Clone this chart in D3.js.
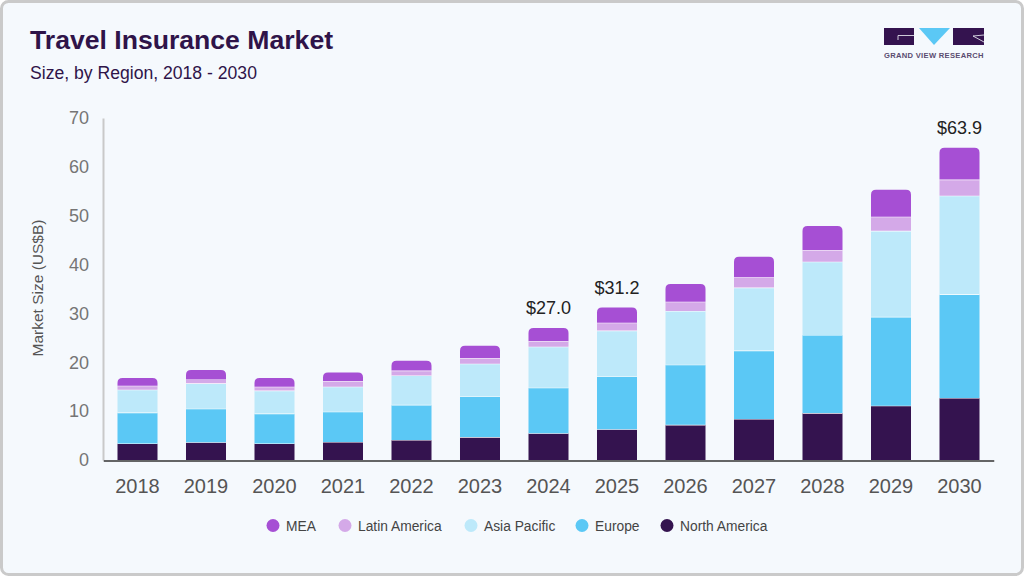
<!DOCTYPE html>
<html><head><meta charset="utf-8">
<script src="https://cdn.jsdelivr.net/npm/d3@7/dist/d3.min.js"></script>
<style>html,body{margin:0;padding:0;background:#fff;}svg{display:block;}text{font-family:"Liberation Sans",sans-serif;}</style>
</head><body><svg id="c" width="1024" height="576"></svg>
<script>
const years = [2018,2019,2020,2021,2022,2023,2024,2025,2026,2027,2028,2029,2030];
const northAmerica = [3.4,3.65,3.4,3.7,4.1,4.7,5.5,6.3,7.2,8.4,9.6,11.1,12.7];
const europe = [6.3,6.85,6.1,6.2,7.2,8.3,9.3,10.8,12.3,14.0,16.0,18.2,21.2];
const asiaPacific = [4.7,5.2,4.7,5.1,6.0,6.7,8.4,9.4,11.0,12.9,15.0,17.6,20.2];
const latinAmerica = [0.8,0.8,0.8,1.1,1.0,1.2,1.1,1.6,1.9,2.1,2.4,2.9,3.3];
const mea = [1.6,1.9,1.8,1.8,2.0,2.5,2.7,3.1,3.6,4.2,4.9,5.5,6.5];
const seriesNames = ["North America","Europe","Asia Pacific","Latin America","MEA"];
const seriesColors = ["#34134f","#5bc8f5","#bde9fa","#d4a9e8","#a64fd4"];
const legendOrder = ["MEA","Latin America","Asia Pacific","Europe","North America"];
const yTicks = [0,10,20,30,40,50,60,70];
const totalLabels = {2024:"$27.0",2025:"$31.2",2030:"$63.9"};

const svg = d3.select("#c");
svg.append("rect").attr("x",1.5).attr("y",1.5).attr("width",1021).attr("height",573).attr("rx",7)
  .attr("fill","#f5f9fd").attr("stroke","#cacaca").attr("stroke-width",3);

svg.append("text").attr("x",30).attr("y",49).attr("font-size",26.6).attr("font-weight",700).attr("fill","#2f1449").text("Travel Insurance Market");
svg.append("text").attr("x",30).attr("y",79).attr("font-size",17.6).attr("fill","#2f1449").text("Size, by Region, 2018 - 2030");

// logo
const logo = svg.append("g");
logo.append("rect").attr("x",884).attr("y",28).attr("width",30).attr("height",17).attr("fill","#34134f");
logo.append("rect").attr("x",953).attr("y",28).attr("width",31).attr("height",17).attr("fill","#34134f");
logo.append("polygon").attr("points","919,28 950,28 934,45").attr("fill","#5bc8f5");
logo.append("path").attr("d","M914 35.5H898V40").attr("fill","none").attr("stroke","#f5f9fd").attr("stroke-width",.8);
logo.append("path").attr("d","M984 42L973 36L984 35").attr("fill","none").attr("stroke","#f5f9fd").attr("stroke-width",.8);
logo.append("text").attr("x",884).attr("y",58).attr("font-size",7.6).attr("font-weight",700).attr("letter-spacing",.3).attr("fill","#5a4c70").text("GRAND VIEW RESEARCH");

const x = d3.scaleBand().domain(years).range([103.25,993.75]).paddingInner(0.416).paddingOuter(0.208);
const y = d3.scaleLinear().domain([0,70]).range([460,118]);

const table = years.map((yr,i)=>({year:yr,"North America":northAmerica[i],"Europe":europe[i],"Asia Pacific":asiaPacific[i],"Latin America":latinAmerica[i],"MEA":mea[i]}));
const stacked = d3.stack().keys(seriesNames)(table);
const color = d3.scaleOrdinal(seriesNames,seriesColors);

const barPath = (d,key)=>{
  const x0=x(d.data.year), w=x.bandwidth(), yt=y(d[1]), yb=y(d[0]);
  if(key==="MEA"){const r=5;return `M${x0} ${yb}V${yt+r}Q${x0} ${yt} ${x0+r} ${yt}H${x0+w-r}Q${x0+w} ${yt} ${x0+w} ${yt+r}V${yb}Z`;}
  return `M${x0} ${yb}V${yt}H${x0+w}V${yb}Z`;
};
svg.append("g").selectAll("g").data(stacked).join("g").attr("fill",s=>color(s.key))
  .each(function(s){
    d3.select(this).selectAll("path").data(s).join("path").attr("d",d=>barPath(d,s.key));
    if(s.key!=="MEA") d3.select(this).selectAll("line").data(s).join("line")
      .attr("x1",d=>x(d.data.year)).attr("x2",d=>x(d.data.year)+x.bandwidth())
      .attr("y1",d=>y(d[1])).attr("y2",d=>y(d[1])).attr("stroke","#fff").attr("stroke-width",1.2);
  });

const yAxis = d3.axisLeft(y).tickValues(yTicks).tickSize(0).tickPadding(14);
const gy = svg.append("g").attr("transform","translate(103,0)").call(yAxis);
gy.select(".domain").attr("stroke","#c9c9c9").attr("stroke-width",2);
gy.selectAll("text").attr("font-size",18).attr("fill","#757575").attr("font-family","Liberation Sans");

const xAxis = d3.axisBottom(x).tickSize(0).tickPadding(18).tickFormat(d3.format("d"));
const gx = svg.append("g").attr("transform","translate(0,460.5)").call(xAxis);
gx.select(".domain").attr("stroke","#333").attr("stroke-width",1.3);
gx.selectAll("text").attr("font-size",20).attr("fill","#555").attr("font-family","Liberation Sans");

svg.append("text").attr("transform","translate(43,288) rotate(-90)").attr("text-anchor","middle").attr("font-size",15.5).attr("fill","#555").text("Market Size (US$B)");

table.filter(d=>totalLabels[d.year]).forEach(d=>{
  const total=seriesNames.reduce((a,k)=>a+d[k],0);
  svg.append("text").attr("x",x(d.year)+x.bandwidth()/2).attr("y",y(total)-14).attr("text-anchor","middle").attr("font-size",18).attr("fill","#222").text(totalLabels[d.year]);
});

const legendX = {"MEA":273,"Latin America":345,"Asia Pacific":471,"Europe":582,"North America":667};
const lg = svg.append("g");
legendOrder.forEach(n=>{
  lg.append("circle").attr("cx",legendX[n]).attr("cy",525.5).attr("r",6.5).attr("fill",color(n));
  lg.append("text").attr("x",legendX[n]+13).attr("y",530.5).attr("font-size",13.8).attr("fill","#444").text(n);
});
</script></body></html>
